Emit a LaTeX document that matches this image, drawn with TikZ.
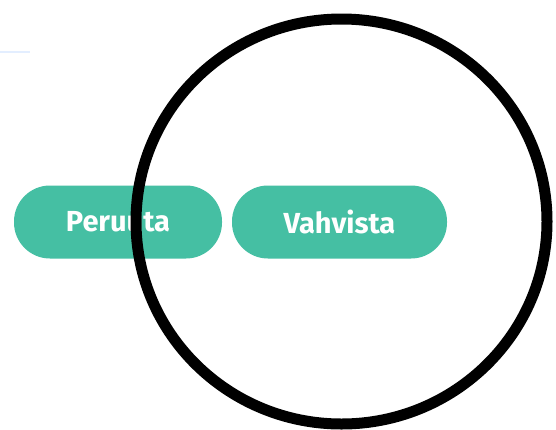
\documentclass[tikz,border=0pt]{standalone}
\usepackage{fontspec}
\usetikzlibrary{shapes.geometric}
\setmainfont{Fira Sans}
\definecolor{btn}{HTML}{45BFA3}
\definecolor{faint}{HTML}{E3EEFF}
\tikzset{
  btnbox/.style={fill=btn, draw=none, rounded corners=36pt, minimum height=73pt, inner sep=0pt,
    text=white, font=\fontsize{29}{32}\selectfont\bfseries},
  ring/.style={draw=black, line width=11pt},
  faintline/.style={draw=faint, line width=2pt}
}
\begin{document}
\begin{tikzpicture}[x=1pt,y=-1pt]
\useasboundingbox (0,0) rectangle (556,429);
\fill[white] (0,0) rectangle (556,429);
\coordinate (l1) at (0,52);
\coordinate (l2) at (30,52);
\draw[faintline] (l1) -- (l2);
\node[btnbox, minimum width=208pt] (cancel) at (118,222) {Peruuta};
\node[btnbox, minimum width=215pt] (confirm) at (339.5,222) {Vahvista};
\node[ring, ellipse, minimum width=411pt, minimum height=405pt, inner sep=0pt] (circ) at (341.5,221.5) {};
\end{tikzpicture}
\end{document}
